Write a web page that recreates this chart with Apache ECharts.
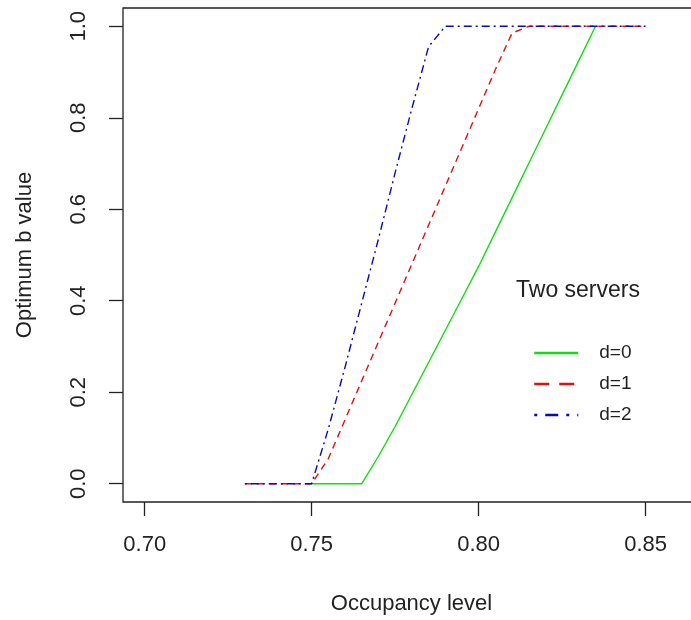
<!DOCTYPE html>
<html>
<head>
<meta charset="utf-8">
<script src="https://cdn.jsdelivr.net/npm/echarts@6/dist/echarts.min.js"></script>
<style>
	html, body { margin: 0; padding: 0; background: #fff; }
	#main { width: 691px; height: 620px; }
</style>
</head>
<body>
<div id="main"></div>
<script>
// occupancy levels, step 0.005
var occupancy = [0.730, 0.735, 0.740, 0.745, 0.750, 0.755, 0.760, 0.765, 0.770, 0.775,
	0.780, 0.785, 0.790, 0.795, 0.800, 0.805, 0.810, 0.815, 0.820, 0.825,
	0.830, 0.835, 0.840, 0.845, 0.850];
// optimum b, d=0 (only drawn from 0.75 to 0.835)
var bD0 = [null, null, null, null, 0, 0, 0, 0, 0.06, 0.125,
	0.195, 0.265, 0.335, 0.405, 0.475, 0.55, 0.625, 0.70, 0.775, 0.85,
	0.925, 1.0, null, null, null];
// optimum b, d=1
var bD1 = [0, 0, 0, 0, 0, 0.055, 0.14, 0.225, 0.31, 0.395,
	0.48, 0.565, 0.65, 0.735, 0.82, 0.905, 0.985, 1, 1, 1,
	1, 1, 1, 1, 1];
// optimum b, d=2
var bD2 = [0, 0, 0, 0, 0, 0.12, 0.255, 0.395, 0.535, 0.68,
	0.82, 0.955, 1, 1, 1, 1, 1, 1, 1, 1,
	1, 1, 1, 1, 1];
var xTicks = [0.70, 0.75, 0.80, 0.85];
var yTicks = [0.0, 0.2, 0.4, 0.6, 0.8, 1.0];

function pairs(ys) {
	var out = [];
	for (var i = 0; i < occupancy.length; i++) {
		out.push([occupancy[i], ys[i]]);
	}
	return out;
}

var font = 'Liberation Sans, Arial, sans-serif';
var axisColor = '#222';
var myChart = echarts.init(document.getElementById('main'));
var option = {
	animation : false,
	color : ['#11dd11', '#dd1111', '#0a0ab4'],
	textStyle : { fontFamily : font },
	title : {
		text : 'Two servers',
		left : 511,
		top : 274,
		textStyle : {
			color : '#222',
			fontSize : 23,
			fontWeight : 'normal',
			fontFamily : font
		}
	},
	legend : {
		orient : 'vertical',
		left : 533,
		top : 343,
		padding : 0,
		itemWidth : 44,
		itemHeight : 20,
		itemGap : 11,
		data : [
			{ name : 'd=0' },
			{ name : 'd=1', lineStyle : { type : [15, 10] } },
			{ name : 'd=2', lineStyle : { type : [3, 8, 13, 8] } }
		],
		itemStyle : { opacity : 0 },
		lineStyle : { width : 2.5 },
		textStyle : {
			color : '#222',
			fontSize : 19,
			lineHeight : 20,
			padding : [0, 0, 0, 16],
			fontFamily : font
		}
	},
	grid : {
		left : 123,
		top : 8,
		width : 577,
		height : 494,
		outerBoundsMode : 'none',	// box runs past the right edge like the original
		show : true,
		borderColor : axisColor,
		borderWidth : 1.3
	},
	xAxis : {
		type : 'value',
		min : 0.6935,
		max : 0.8663,
		name : 'Occupancy level',
		nameLocation : 'middle',
		nameGap : 91,
		nameTextStyle : { color : '#222', fontSize : 22, fontFamily : font },
		axisLine : { show : false, onZero : false },
		axisTick : {
			show : true,
			inside : false,
			customValues : xTicks,
			length : 14,
			lineStyle : { color : axisColor, width : 1.3 }
		},
		axisLabel : {
			show : true,
			customValues : xTicks,
			margin : 32,
			color : '#222',
			fontSize : 22,
			fontFamily : font,
			formatter : function (v) { return v.toFixed(2); }
		},
		splitLine : { show : false }
	},
	yAxis : {
		type : 'value',
		min : -0.04,
		max : 1.04,
		name : 'Optimum b value',
		nameLocation : 'middle',
		nameGap : 87,
		nameTextStyle : { color : '#222', fontSize : 22, fontFamily : font },
		axisLine : { show : false, onZero : false },
		axisTick : {
			show : true,
			customValues : yTicks,
			length : 14,
			lineStyle : { color : axisColor, width : 1.3 }
		},
		axisLabel : {
			show : true,
			customValues : yTicks,
			rotate : 90,
			margin : 33,
			color : '#222',
			fontSize : 22,
			fontFamily : font,
			formatter : function (v) { return v.toFixed(1); }
		},
		splitLine : { show : false }
	},
	series : [{
		name : 'd=0',
		type : 'line',
		data : pairs(bD0),
		symbol : 'none',
		lineStyle : { width : 1.4, type : 'solid' }
	}, {
		name : 'd=1',
		type : 'line',
		data : pairs(bD1),
		symbol : 'none',
		lineStyle : { width : 1.4, type : [7, 5] }
	}, {
		name : 'd=2',
		type : 'line',
		data : pairs(bD2),
		symbol : 'none',
		lineStyle : { width : 1.4, type : [2, 4, 8, 4] }
	}]
};
myChart.setOption(option);
</script>
</body>
</html>
